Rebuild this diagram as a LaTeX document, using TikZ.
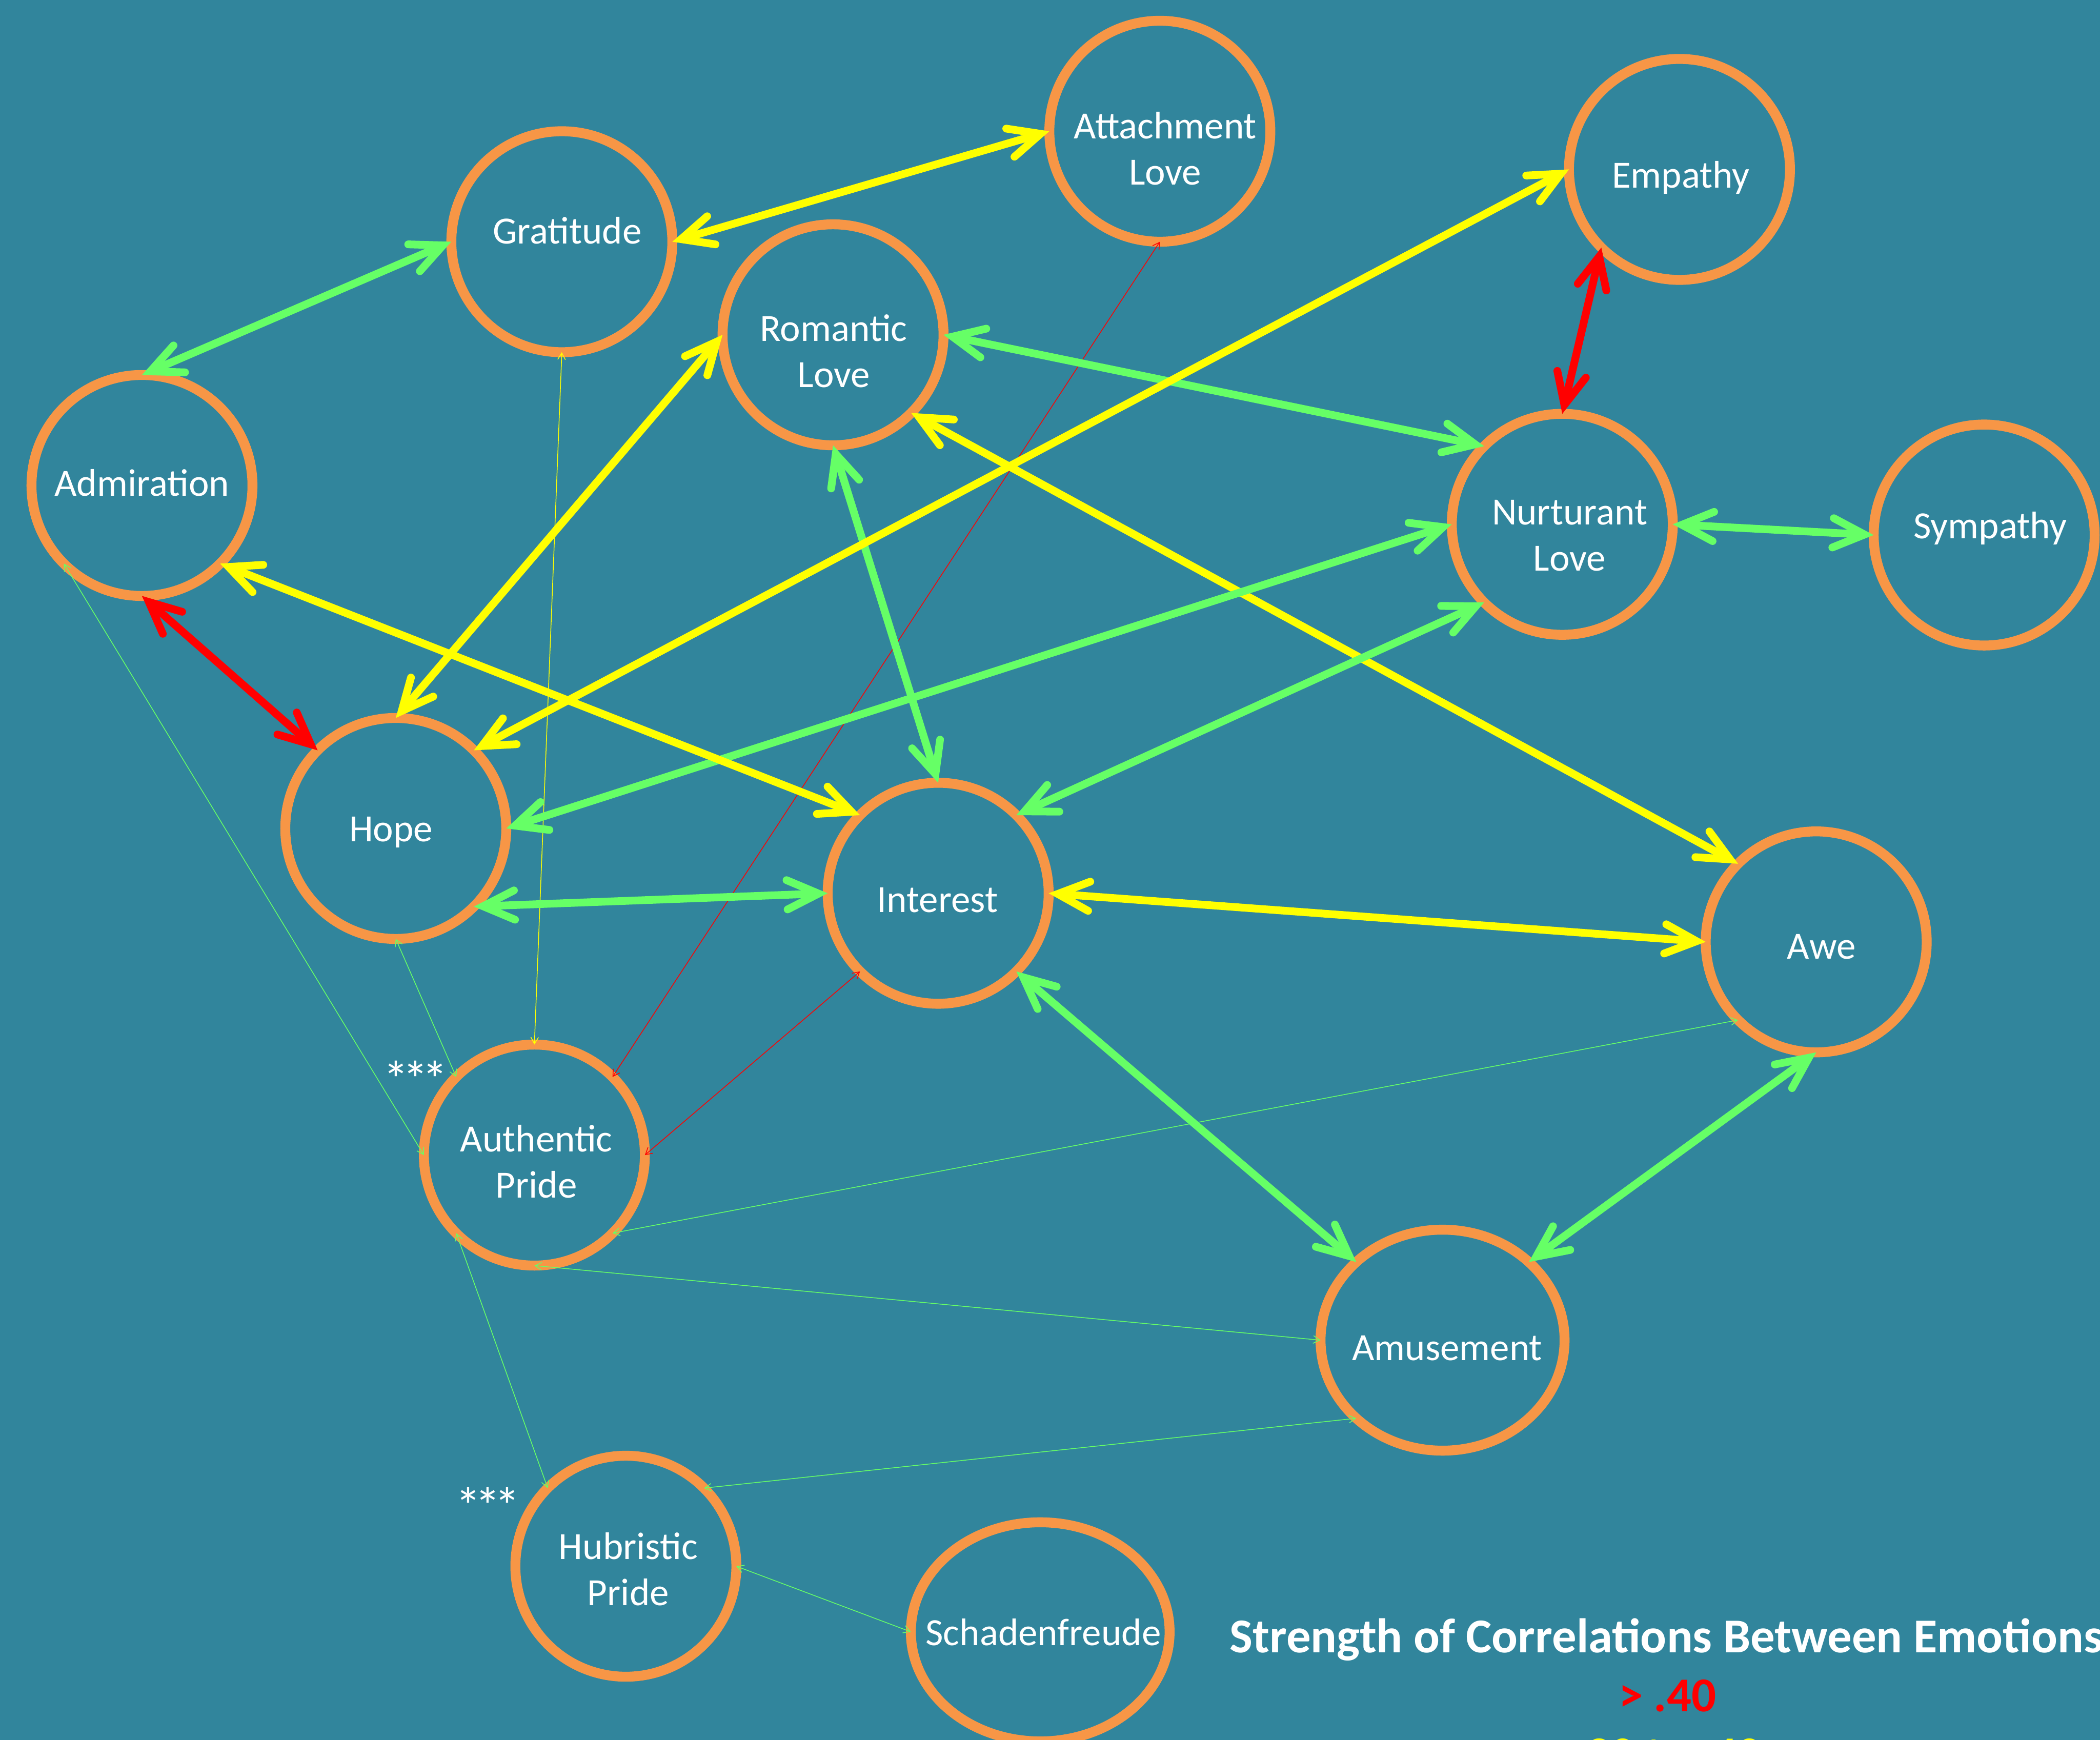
\documentclass[tikz,border=0pt]{standalone}
\usepackage{fontspec}
\setmainfont{Carlito}
\usetikzlibrary{arrows.meta,shapes.geometric}
\definecolor{bgteal}{HTML}{31859C}
\definecolor{ringor}{HTML}{F79646}
\definecolor{cgreen}{HTML}{66FF66}
\definecolor{cyellow}{HTML}{FFFF00}
\definecolor{cred}{HTML}{FF0000}
\tikzset{
  emo/.style={circle, draw=ringor, line width=7.7pt, minimum size=6.035cm, inner sep=0pt, outer sep=0pt},
  emoell/.style={ellipse, draw=ringor, line width=7.7pt, inner sep=0pt, outer sep=0pt},
  lbl/.style={text=white, font=\fontsize{29.9pt}{35.9pt}\selectfont, inner sep=0pt, align=center, anchor=base},
  stars/.style={text=white, font=\fontsize{40pt}{48pt}\selectfont, inner sep=0pt, anchor=base},
  legtitle/.style={text=white, font=\fontsize{37.8pt}{45pt}\selectfont\bfseries, inner sep=0pt, anchor=base west},
  legline/.style={font=\fontsize{37.8pt}{45pt}\selectfont\bfseries, inner sep=0pt, anchor=base},
  bigtip/.tip={Straight Barb[length=0.86cm, width=0.80cm, line cap=round, line join=miter]},
  smalltip/.tip={Straight Barb[length=0.18cm, width=0.21cm]},
  thk/.style={line width=6pt, bigtip-bigtip},
  thn/.style={line width=0.6pt, smalltip-smalltip},
}
\newcommand{\threestars}{*\kern-4.8pt*\kern-4.8pt*}
\begin{document}
\begin{tikzpicture}[x=0.0365753cm, y=-0.0365753cm]
\fill[bgteal] (0,0) rectangle (1568,1299.2);
\useasboundingbox (0,0) rectangle (1568,1299.2);

% emotion circles
\node[emo] (att)  at (866,98) {};
\node[emo] (grat) at (419.5,180.5) {};
\node[emo] (emp)  at (1254,126.5) {};
\node[emo] (rom)  at (622,250) {};
\node[emo] (adm)  at (106,362.5) {};
\node[emo] (nur)  at (1166.5,391.5) {};
\node[emo] (sym)  at (1481.5,399.5) {};
\node[emo] (hope) at (295.5,618.6) {};
\node[emo] (int)  at (700.5,667) {};
\node[emo] (awe)  at (1356.1,703.3) {};
\node[emo] (ap)   at (399,862.5) {};
\node[emoell, minimum width=6.664cm, minimum height=6.035cm] (amu) at (1077.1,1000.7) {};
\node[emo] (hp)   at (467.3,1169.5) {};
\node[emoell, minimum width=7.066cm, minimum height=5.984cm] (sch) at (776.7,1218.5) {};

% thin connectors
\draw[thn, cyellow] (grat.south) -- (ap.north);
\draw[thn, cred] (att.south) -- (ap.north east);
\draw[thn, cred] (int.south west) -- (ap.east);
\draw[thn, cgreen] (hope.south) -- (ap.north west);
\draw[thn, cgreen] (adm.south west) -- (ap.west);
\draw[thn, cgreen] (awe.south west) -- (ap.south east);
\draw[thn, cgreen] (amu.west) -- (ap.south);
\draw[thn, cgreen] (hp.north west) -- (ap.south west);
\draw[thn, cgreen] (amu.south west) -- (hp.north east);
\draw[thn, cgreen] (hp.east) -- (sch.west);

% thick connectors
\draw[thk, cyellow] (grat.east) -- (att.west);
\draw[thk, cgreen] (grat.west) -- (adm.north);
\draw[thk, cgreen] (rom.east) -- (nur.north west);
\draw[thk, cyellow] (rom.south east) -- (awe.north west);
\draw[thk, cgreen] (rom.south) -- (int.north);
\draw[thk, cyellow] (rom.west) -- (hope.north);
\draw[thk, cyellow] (emp.west) -- (hope.north east);
\draw[thk, cred] (emp.south west) -- (nur.north);
\draw[thk, cgreen] (nur.east) -- (sym.west);
\draw[thk, cgreen] (nur.west) -- (hope.east);
\draw[thk, cgreen] (nur.south west) -- (int.north east);
\draw[thk, cyellow] (adm.south east) -- (int.north west);
\draw[thk, cred] (adm.south) -- (hope.north west);
\draw[thk, cgreen] (hope.south east) -- (int.west);
\draw[thk, cyellow] (int.east) -- (awe.west);
\draw[thk, cgreen] (int.south east) -- (amu.north west);
\draw[thk, cgreen] (awe.south) -- (amu.north east);

% labels (base anchor of two-line labels = baseline of the last line)
\node[lbl] (attT)  at (870,138) {Attachment\\Love};
\node[lbl] (gratT) at (423.5,182.2) {Gratitude};
\node[lbl] (empT)  at (1255,140.2) {Empathy};
\node[lbl] (romT)  at (622.5,289.2) {Romantic\\Love};
\node[lbl] (admT)  at (106,370.2) {Admiration};
\node[lbl] (nurT)  at (1172,426.2) {Nurturant\\Love};
\node[lbl] (symT)  at (1486,402.2) {Sympathy};
\node[lbl] (hopeT) at (292,628.2) {Hope};
\node[lbl] (intT)  at (700,681.2) {Interest};
\node[lbl] (aweT)  at (1360,716.2) {Awe};
\node[lbl] (apT)   at (400.5,894.3) {Authentic\\Pride};
\node[lbl] (amuT)  at (1080.5,1015.7) {Amusement};
\node[lbl] (hpT)   at (469.1,1198.8) {Hubristic\\Pride};
\node[lbl] (schT)  at (779,1228.7) {Schadenfreude};

\node[stars] (s1) at (310.2,819.5) {\threestars};
\node[stars] (s2) at (364.2,1138) {\threestars};

% legend
\node[legtitle] (legT) at (918,1234) {Strength of Correlations Between Emotions};
\node[legline, text=cred] (legR) at (1245,1278) {> .40};
\node[legline, text=cyellow] (legY) at (1245,1322) {.30 to .40};
\end{tikzpicture}
\end{document}
